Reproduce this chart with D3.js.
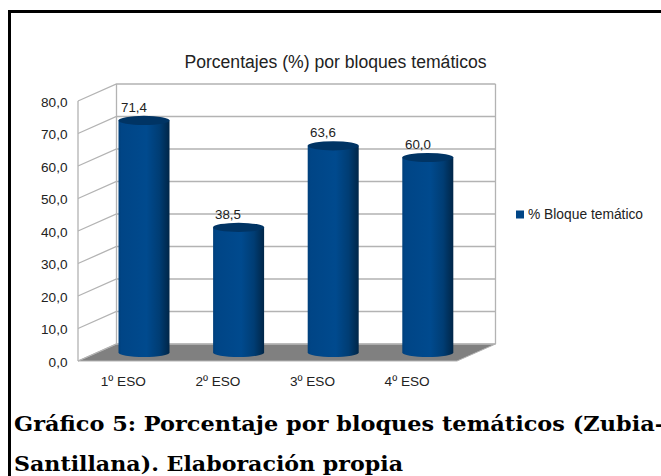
<!DOCTYPE html>
<html><head><meta charset="utf-8">
<script src="https://cdn.jsdelivr.net/npm/d3@7/dist/d3.min.js"></script>
<style>html,body{margin:0;padding:0;background:#fff}svg{display:block}text{font-family:"Liberation Sans",sans-serif;fill:#222}</style>
</head><body><div id="c"></div>
<script>
const categories = ["1º ESO","2º ESO","3º ESO","4º ESO"];
const values = [71.4,38.5,63.6,60.0];
const valueLabels = ["71,4","38,5","63,6","60,0"];
const ticks = [0,10,20,30,40,50,60,70,80];
const seriesName = "% Bloque temático";
const chartTitle = "Porcentajes (%) por bloques temáticos";
const captionLines = ["Gráfico 5: Porcentaje por bloques temáticos (Zubia-","Santillana). Elaboración propia"];

const W=661,H=476;
const svg=d3.select("#c").append("svg").attr("width",W).attr("height",H);
const defs=svg.append("defs");
const g=defs.append("linearGradient").attr("id","bar");
[[0,"#003f7a"],[0.06,"#004586"],[0.55,"#004a8e"],[0.8,"#003d74"],[1,"#002648"]].forEach(d=>g.append("stop").attr("offset",d[0]).attr("stop-color",d[1]));

svg.append("path").attr("d",`M9.5 ${H} V11.5 H${W}`).attr("fill","none").attr("stroke","#000").attr("stroke-width",3);

const yFront=d3.scaleLinear().domain([0,80]).range([361,101]);
const yBack=d3.scaleLinear().domain([0,80]).range([344,84]);
const yBar=d3.scaleLinear().domain([0,80]).range([352.5,92.5]);
const xF0=78,xB0=116.5,xB1=495.5,xF1=457;

svg.append("polygon").attr("points",[[xF0,361],[xB0,344],[xB1,344],[xF1,361]].join(" ")).attr("fill","#808080").attr("stroke","#b3b3b3");
const grid="#b3b3b3";
ticks.forEach(t=>{
  svg.append("path").attr("d",`M${xF0} ${yFront(t)} L${xB0} ${yBack(t)} H${xB1}`).attr("fill","none").attr("stroke",grid).attr("stroke-width",1.3);
});
svg.append("path").attr("d",`M${xF0} 361 V101 M${xB0} 344 V84 M${xB1} 344 V84`).attr("fill","none").attr("stroke",grid).attr("stroke-width",1.3);

svg.selectAll("text.yt").data(ticks).join("text").attr("class","yt")
 .attr("x",67.5).attr("y",d=>yFront(d)+5.8).attr("text-anchor","end").attr("font-size",13.6)
 .text(d=>d3.format(".1f")(d).replace(".",","));

const barW=51, ry=4.6;
const barX=d3.scaleBand().domain(categories).range([118.5,118.5+4*94.6]);
const labelX=d3.scaleBand().domain(categories).range([76,76+4*94.6]);
const valueX=[134,228,323,418];
values.forEach((v,i)=>{
  const c=categories[i],x0=barX(c),rx=barW/2,top=yBar(v),bot=yBar(0);
  svg.append("path").attr("d",`M${x0} ${top} V${bot} A${rx} ${ry} 0 0 0 ${x0+barW} ${bot} V${top} Z`).attr("fill","url(#bar)");
  svg.append("ellipse").attr("cx",x0+rx).attr("cy",top).attr("rx",rx).attr("ry",ry).attr("fill","#003464");
  svg.append("text").attr("x",valueX[i]).attr("y",top-8.5).attr("text-anchor","middle").attr("font-size",13.3).text(valueLabels[i]);
  svg.append("text").attr("x",labelX(c)+labelX.bandwidth()/2).attr("y",385.5).attr("text-anchor","middle").attr("font-size",13.6).text(c);
});

svg.append("text").attr("x",335.5).attr("y",68).attr("text-anchor","middle").attr("font-size",17.6).text(chartTitle);
svg.append("rect").attr("x",516).attr("y",210.5).attr("width",8).attr("height",8).attr("fill","#004586");
svg.append("text").attr("x",528).attr("y",219).attr("font-size",13.8).text(seriesName);
const serif='"DejaVu Serif",serif';
[[431,650],[471,389]].forEach((d,i)=>{
  svg.append("text").attr("x",14).attr("y",d[0]).attr("textLength",d[1]).attr("lengthAdjust","spacingAndGlyphs").style("font-family",serif).style("font-weight","bold").style("fill","#000").attr("font-size",20).text(captionLines[i]);
});
</script></body></html>
